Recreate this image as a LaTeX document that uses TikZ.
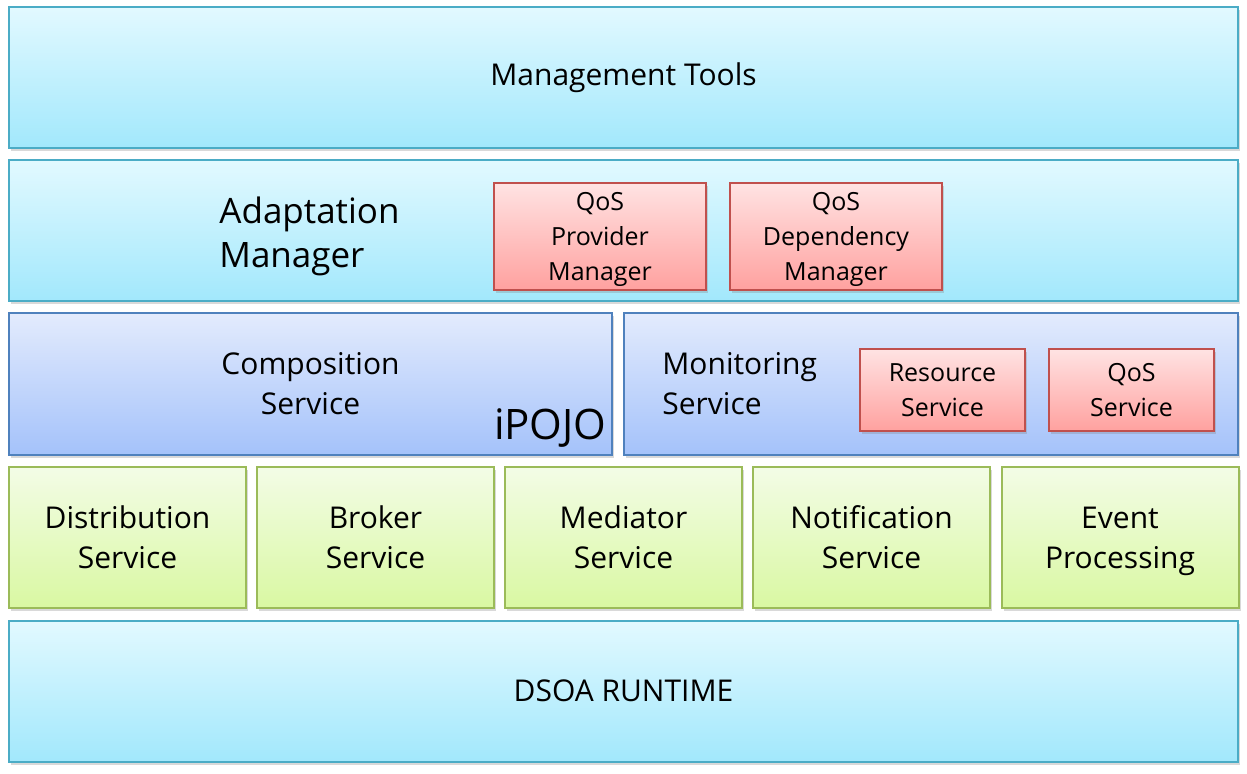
\documentclass[tikz,border=0pt]{standalone}
\usepackage{fontspec}
\setmainfont{Open Sans}
\usetikzlibrary{positioning,shadows}

\definecolor{cyanline}{HTML}{4BACC6}
\definecolor{cyantop}{HTML}{E2F9FF}
\definecolor{cyanbot}{HTML}{A2E8FC}
\definecolor{blueline}{HTML}{4F81BD}
\definecolor{bluetop}{HTML}{E3EBFD}
\definecolor{bluebot}{HTML}{A4C2FA}
\definecolor{greenline}{HTML}{9BBB59}
\definecolor{greentop}{HTML}{F3FCE6}
\definecolor{greenbot}{HTML}{D9F8A2}
\definecolor{redline}{HTML}{C0504D}
\definecolor{redtop}{HTML}{FFE3E3}
\definecolor{redbot}{HTML}{FFA19F}

\tikzset{
    box/.style={draw, rectangle, line width=1pt, align=center, inner sep=0pt,
        font=\fontsize{15}{20}\selectfont,
        drop shadow={shadow xshift=1pt, shadow yshift=-1.5pt, opacity=0.3}},
    layer/.style={box, draw=cyanline, top color=cyantop, bottom color=cyanbot,
        minimum width=614.5pt, minimum height=70.5pt},
    halfbox/.style={box, draw=blueline, top color=bluetop, bottom color=bluebot,
        minimum height=71pt},
    svcbox/.style={box, draw=greenline, top color=greentop, bottom color=greenbot,
        minimum width=118.5pt, minimum height=70.5pt},
    qosbox/.style={box, draw=redline, top color=redtop, bottom color=redbot,
        font=\fontsize{12.5}{17.5}\selectfont},
    lbl/.style={align=left, inner sep=0pt, font=\fontsize{15}{20}\selectfont}
}

\begin{document}
\begin{tikzpicture}[x=0.5pt, y=-0.5pt]
    \useasboundingbox (0,0) rectangle (1247,774);

    % top and bottom layers
    \node[layer] (tools) at (623.5,77.5) {\raisebox{-1.5pt}{Management Tools}};
    \node[layer] (adapt) at (623.5,230.5) {};
    \node[layer] (runtime) at (623.5,691) {DSOA RUNTIME};

    % adaptation layer
    \node[lbl, anchor=west, font=\fontsize{17.5}{22}\selectfont] (adaptlbl) at (219,232) {Adaptation\\\smash{Manager}};
    \node[qosbox, minimum width=106pt, minimum height=53.5pt] (qpm) at (600,236.5) {QoS\\Provider\\\smash{Manager}};
    \node[qosbox, minimum width=106pt, minimum height=53.5pt] (qdm) at (836,236.5) {QoS\\Dependency\\\smash{Manager}};

    % iPOJO layer
    \node[halfbox, minimum width=301.5pt] (comp) at (310.5,384) {Composition\\Service};
    \node[anchor=east, inner sep=0pt, font=\fontsize{21}{24}\selectfont] (ipojo) at (607,428) {iPOJO};
    \node[halfbox, minimum width=307pt] (mon) at (931,384) {};
    \node[lbl, anchor=west] (monlbl) at (662,384) {Monitoring\\Service};
    \node[qosbox, minimum width=82.5pt, minimum height=41pt] (res) at (942.5,390) {Resource\\Service};
    \node[qosbox, minimum width=82.5pt, minimum height=41pt] (qos) at (1131.5,390) {QoS\\Service};

    % services row
    \foreach \x/\n/\t in {127.5/dist/{Distribution\\Service}, 375.5/broker/{Broker\\Service},
        623.5/med/{Mediator\\Service}, 871.5/notif/{Notification\\Service},
        1120/event/{Event\\\smash{Processing}}}
        \node[svcbox] (\n) at (\x,537.5) {\t};
\end{tikzpicture}
\end{document}
